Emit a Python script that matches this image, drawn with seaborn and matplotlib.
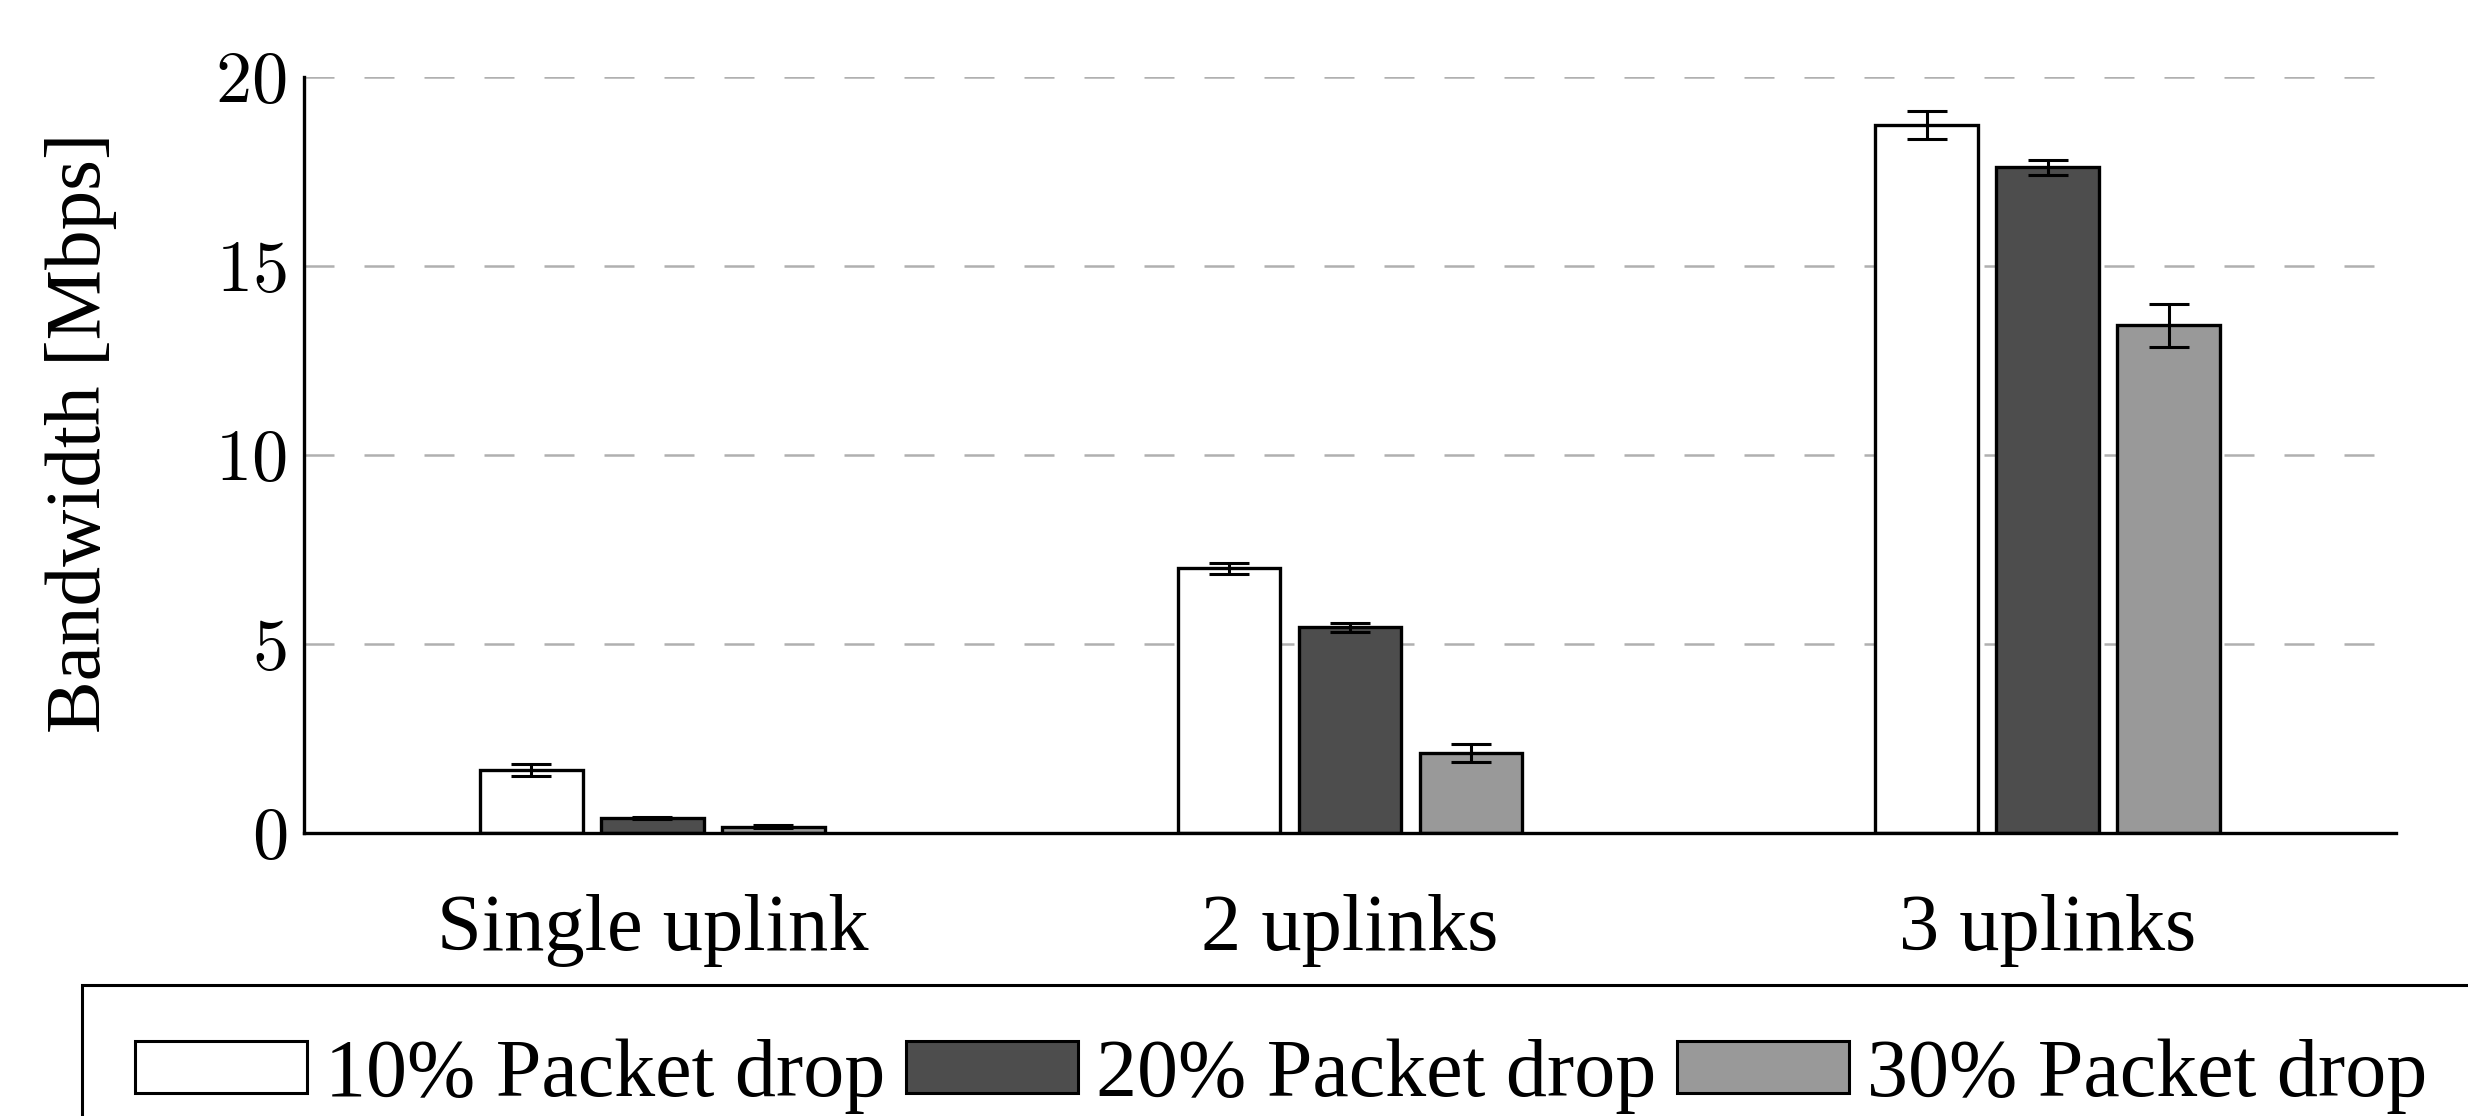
import numpy as np
import pandas as pd
import matplotlib
matplotlib.use("Agg")
import matplotlib.pyplot as plt
from matplotlib.patches import Patch
from matplotlib.ticker import FuncFormatter
import seaborn as sns

# data
setups = ["Single uplink", "2 uplinks", "3 uplinks"]
drops = ["10% Packet drop", "20% Packet drop", "30% Packet drop"]
bw_10 = [1.67, 7.00, 18.73]
bw_20 = [0.39, 5.44, 17.61]
bw_30 = [0.17, 2.12, 13.43]
err_10 = [0.15, 0.14, 0.38]
err_20 = [0.03, 0.11, 0.20]
err_30 = [0.03, 0.23, 0.56]
colors = ["#ffffff", "#4d4d4d", "#999999"]
yticks = [0, 5, 10, 15, 20]

df = pd.DataFrame({
    "setup": setups * 3,
    "drop": [d for d in drops for _ in setups],
    "bw": bw_10 + bw_20 + bw_30,
})
errs = [err_10, err_20, err_30]

sns.set_style("white")
plt.rcParams["font.family"] = ["Liberation Serif", "DejaVu Serif"]
plt.rcParams["mathtext.fontset"] = "cm"
plt.rcParams["text.color"] = "black"
plt.rcParams["axes.labelcolor"] = "black"
plt.rcParams["xtick.color"] = "black"
plt.rcParams["ytick.color"] = "black"

fig = plt.figure(figsize=(12.34, 5.58), dpi=200)
ax = fig.add_axes([0.123, 0.2536, 0.848, 0.6774])

sns.barplot(data=df, x="setup", y="bw", hue="drop", hue_order=drops,
            palette=colors, edgecolor="black", linewidth=1.2,
            width=0.52, gap=0.15, errorbar=None, legend=False, ax=ax, zorder=2)

# error bars on the bar centres
for cont, e in zip(ax.containers, errs):
    xs = [p.get_x() + p.get_width() / 2 for p in cont]
    ys = [p.get_height() for p in cont]
    ax.errorbar(xs, ys, yerr=e, fmt="none", ecolor="black", elinewidth=1.1,
                capsize=7.2, capthick=1.1, zorder=3)

ax.set_xlim(-0.5, 2.5)
ax.set_ylim(0, 20)
ax.set_yticks(yticks)
ax.yaxis.set_major_formatter(FuncFormatter(lambda v, p: "$%d$" % v))
ax.yaxis.grid(True, color="#b0b0b0", linestyle=(0, (12, 12)), linewidth=0.9)
ax.set_axisbelow(True)

for s in ["top", "right"]:
    ax.spines[s].set_visible(False)
for s in ["left", "bottom"]:
    ax.spines[s].set_color("black")
    ax.spines[s].set_linewidth(1.2)

ax.tick_params(axis="y", length=0, pad=6, labelsize=26)
ax.tick_params(axis="x", length=0, pad=22, labelsize=29)
ax.set_xlabel("")
ax.set_ylabel("Bandwidth [Mbps]", fontsize=28.5)
ax.yaxis.set_label_coords(-0.089, 0.53)

handles = [Patch(facecolor=c, edgecolor="black", linewidth=1.1) for c in colors]
leg = fig.legend(handles, drops, loc="upper left",
                 bbox_to_anchor=(82 / 2468, 1 - 985 / 1116),
                 ncol=3, fontsize=29.5, frameon=True, fancybox=False,
                 handlelength=2.1, handleheight=0.6, handletextpad=0.22,
                 columnspacing=0.25, borderpad=0.65, borderaxespad=0)
leg.get_frame().set_edgecolor("black")
leg.get_frame().set_linewidth(1.1)
leg.get_frame().set_alpha(1)

fig.savefig("out.png", dpi=200)
